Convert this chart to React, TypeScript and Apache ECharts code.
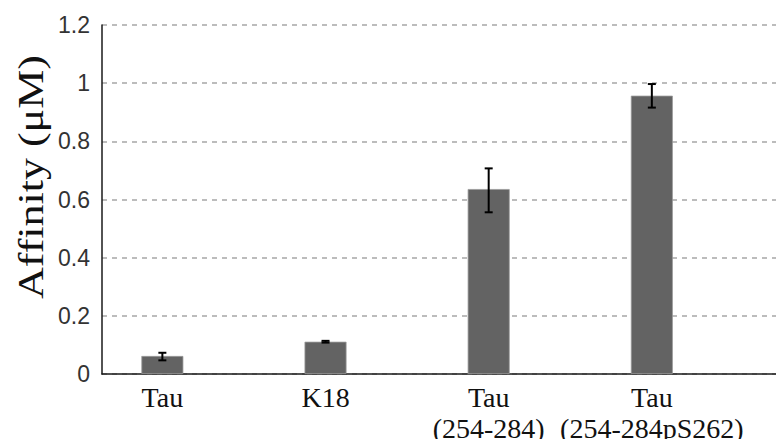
import React, { useEffect, useRef } from "react";
import * as echarts from "echarts";

const categories = ["Tau", "K18", "Tau\n(254-284)", "Tau\n(254-284pS262)"];
const affinity = [0.062, 0.111, 0.636, 0.957];
const errLow = [0.047, 0.108, 0.556, 0.916];
const errHigh = [0.073, 0.114, 0.707, 0.997];
const yTicks = { min: 0, max: 1.2, interval: 0.2 };
const yTitle = "Affinity (μM)";

export default function App() {
  const ref = useRef<HTMLDivElement>(null);
  useEffect(() => {
    if (!ref.current) return;
    const chart = echarts.init(ref.current, null, { renderer: "svg" });
    const idx = categories.map((_, i) => i);
    chart.setOption({
      animation: false,
      grid: { left: 102, right: 0, top: 25, bottom: 73 },
      graphic: [
        {
          type: "text",
          x: 31,
          y: 177,
          rotation: Math.PI / 2,
          scaleX: 1.1,
          scaleY: 0.88,
          style: {
            text: yTitle,
            fontFamily: "Liberation Serif",
            fontSize: 40,
            fill: "#111",
            align: "center",
            verticalAlign: "middle",
          },
        },
      ],
      xAxis: {
        type: "value",
        min: -0.37,
        max: 3.81,
        splitLine: { show: false },
        axisTick: { show: false },
        axisLine: { show: true, lineStyle: { color: "#1a1a1a", width: 1.5 } },
        axisLabel: {
          customValues: idx,
          formatter: (v: number) => categories[Math.round(v)] ?? "",
          fontFamily: "Liberation Serif",
          fontSize: 28,
          lineHeight: 31,
          color: "#111",
          margin: 8,
          showMinLabel: true,
          showMaxLabel: true,
        },
      },
      yAxis: {
        type: "value",
        min: yTicks.min,
        max: yTicks.max,
        interval: yTicks.interval,
        axisLine: { show: true, onZero: false, lineStyle: { color: "#1a1a1a", width: 1.5 } },
        axisTick: { show: false },
        splitLine: { show: true, lineStyle: { color: "#a6a6a6", type: [5, 5], width: 1.5 } },
        axisLabel: {
          fontFamily: "Liberation Sans",
          fontSize: 23,
          color: "#333",
          margin: 12,
        },
      },
      series: [
        {
          type: "bar",
          data: idx.map((i) => [i, affinity[i]]),
          barWidth: 42,
          itemStyle: { color: "#636363", borderColor: "#9a9a9a", borderWidth: 0.8 },
        },
        {
          type: "custom",
          data: idx.map((i) => [i, errLow[i], errHigh[i]]),
          renderItem: (params: any, api: any) => {
            const x = api.value(0);
            const lo = api.coord([x, api.value(1)]);
            const hi = api.coord([x, api.value(2)]);
            const hw = 4;
            const style = { stroke: "#000", lineWidth: 2 };
            return {
              type: "group",
              children: [
                { type: "line", shape: { x1: lo[0], y1: lo[1], x2: hi[0], y2: hi[1] }, style },
                { type: "line", shape: { x1: hi[0] - hw, y1: hi[1], x2: hi[0] + hw, y2: hi[1] }, style },
                { type: "line", shape: { x1: lo[0] - hw, y1: lo[1], x2: lo[0] + hw, y2: lo[1] }, style },
              ],
            };
          },
          z: 10,
        },
      ],
    });
    return () => chart.dispose();
  }, []);
  return <div ref={ref} style={{ width: 784, height: 447, margin: -8 }} />;
}
